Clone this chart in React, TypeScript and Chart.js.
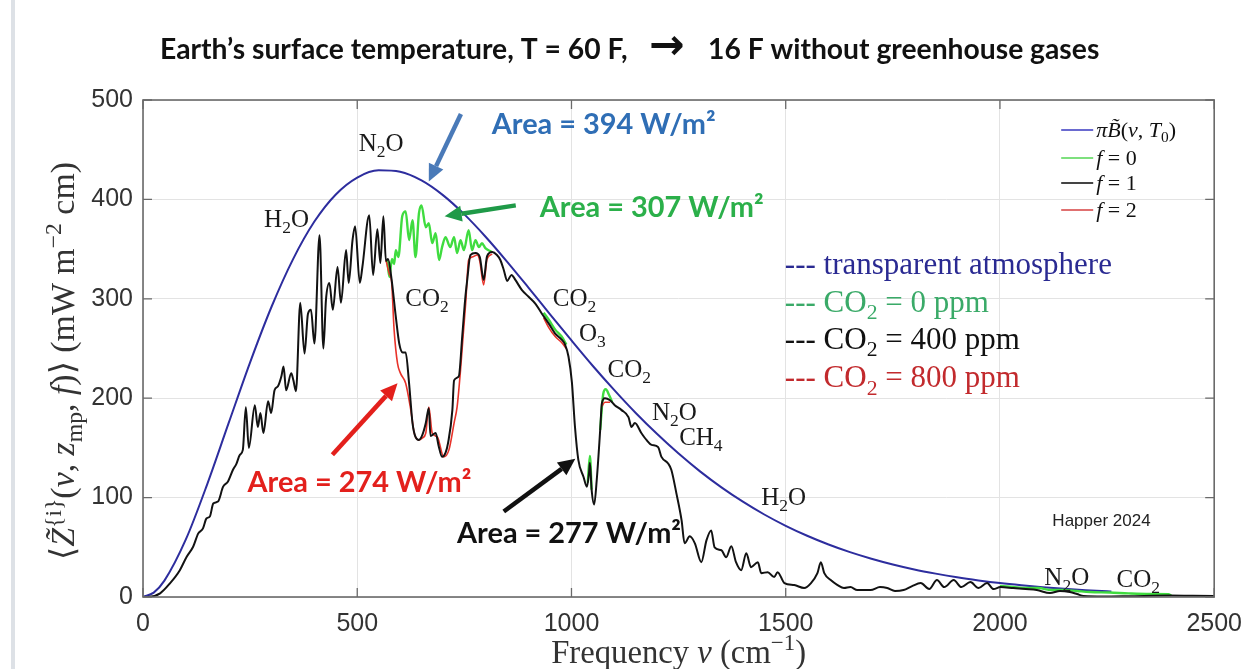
import { useEffect, useRef } from "react";
import { Chart, registerables } from "chart.js";

Chart.register(...registerables);

// ---------------- data ----------------
const X_TICKS = [0, 500, 1000, 1500, 2000, 2500];
const Y_TICKS = [0, 100, 200, 300, 400, 500];

// transparent atmosphere, pi*B(nu, T0)
const blueNu = [0, 25, 50, 100, 150, 200, 250, 300, 350, 400, 450, 500, 550, 600, 650, 700, 750, 800, 850, 900, 950, 1000, 1050, 1100, 1150, 1200, 1250, 1300, 1350, 1400, 1450, 1500, 1550, 1600, 1650, 1700, 1750, 1800, 1850, 1900, 1950, 2000, 2050, 2100, 2150, 2200, 2250, 2260];
const blueVal = [0, 4.4, 16.5, 57.9, 113.6, 175.1, 236.1, 292.0, 339.7, 377.7, 405.0, 422.0, 429.3, 427.8, 419.1, 404.3, 384.9, 362.2, 337.2, 311.0, 284.4, 258.1, 232.4, 208.1, 185.1, 163.9, 144.3, 126.4, 110.3, 95.9, 83.0, 71.6, 61.6, 52.8, 45.1, 38.5, 32.7, 27.7, 23.5, 19.8, 16.7, 14.0, 11.8, 9.9, 8.3, 6.9, 5.7, 5.5];

// f = 1, CO2 = 400 ppm
const blackNu = [0, 16, 40, 63, 86, 102, 117, 129, 140, 148, 156, 164, 175, 187, 198, 210, 218, 226, 233, 240, 247, 261, 268, 274, 281, 292, 299, 307, 315, 323, 328, 334, 346, 351, 357, 367, 377, 385, 392, 400, 412, 421, 427, 435, 443, 454, 462, 474, 480, 489, 495, 506, 512, 528, 537, 547, 554, 561, 567, 572, 580, 590, 598, 606, 613, 621, 629, 636, 644, 652, 660, 667, 671, 683, 690, 698, 706, 712, 722, 726, 737, 745, 752, 757, 764, 776, 786, 795, 803, 815, 826, 834, 842, 850, 860, 869, 884, 900, 916, 931, 947, 962, 977, 985, 993, 1001, 1008, 1016, 1028, 1036, 1041, 1043, 1047, 1053, 1059, 1067, 1071, 1078, 1090, 1101, 1117, 1133, 1140, 1148, 1163, 1175, 1187, 1202, 1210, 1226, 1233, 1245, 1257, 1264, 1276, 1288, 1303, 1315, 1326, 1334, 1350, 1361, 1373, 1384, 1396, 1408, 1419, 1435, 1443, 1458, 1473, 1481, 1497, 1520, 1543, 1559, 1574, 1582, 1590, 1605, 1621, 1636, 1651, 1667, 1698, 1720, 1737, 1755, 1775, 1795, 1815, 1835, 1853, 1870, 1892, 1910, 1931, 1950, 1970, 1985, 2001, 2031, 2060, 2086, 2117, 2140, 2163, 2180, 2195, 2241, 2300, 2396, 2450, 2500];
const blackVal = [0, 0.3, 3.7, 13.8, 27, 40.6, 50.6, 64, 69, 79, 81, 94, 96, 111, 116, 128, 134, 143, 148, 191, 150, 193, 171, 185, 165, 197, 185, 208, 212, 222, 232, 208, 225, 218, 207, 296, 245, 285, 289, 255, 364, 250, 299, 316, 289, 332, 296, 349, 316, 359, 373, 316, 332, 384, 324, 370, 336, 383, 338, 340, 320, 282, 255, 246, 246, 215, 175, 161, 158, 163, 175, 190, 162, 165, 152, 141, 145, 155, 188, 218, 222, 262, 300, 320, 344, 346, 342, 319, 343, 347, 344, 339, 329, 318, 324, 319, 309, 302, 295, 285, 275, 265, 259, 254, 242, 216, 172, 138, 121, 111, 125, 135, 108, 93, 118, 168, 195, 200, 198, 193, 188, 181, 171, 175, 165, 158, 153, 151, 141, 134, 128, 104, 77, 54, 61, 54, 35, 57, 67, 50, 47, 40, 51, 35, 27, 44, 30, 35, 24, 25, 20, 25, 14, 12, 9, 14, 24, 35, 24, 17, 12, 9, 10, 7, 7, 10, 9, 6, 7, 11, 14, 8, 17, 10, 17, 10, 15, 9, 14, 8, 10, 9, 8, 7, 4, 6, 5, 3, 1, 0.5, 0.8, 1.5, 1.2, 1];

// f = 0, CO2 = 0 ppm (only where it departs from f = 1; null = gap)
const greenNu = [570, 575, 581, 586, 590, 596, 605, 613, 621, 629, 636, 644, 650, 660, 667, 675, 683, 691, 698, 706, 717, 726, 733, 741, 749, 760, 768, 776, 784, 791, 799, 810, 815, 816, 935, 947, 962, 977, 988, 989, 1038, 1043, 1047, 1048, 1067, 1074, 1080, 1088, 1095, 1096, 2000, 2030, 2060, 2090, 2120, 2150, 2180, 2210, 2256, 2300, 2350, 2393, 2400];
const greenVal = [340, 322, 340, 335, 349, 342, 383, 388, 359, 379, 342, 386, 394, 372, 376, 356, 366, 339, 352, 362, 352, 362, 346, 359, 349, 369, 349, 359, 352, 356, 351, 348, 347, null, 286, 279, 269, 262, 254, null, 115, 142, 108, null, 168, 204, 209, 203, 196, null, 11, 10, 9, 9, 7, 7, 6, 5, 4.5, 3.6, 3.0, 2.8, 1.5];

// f = 2, CO2 = 800 ppm (only where it departs from f = 1)
const redNu = [567, 575, 580, 586, 594, 601, 613, 625, 633, 644, 652, 660, 667, 675, 687, 702, 714, 726, 733, 741, 747, 753, 760, 768, 780, 786, 795, 803, 815, 816, 935, 947, 962, 977, 988, 989, 1071, 1078, 1090];
const redVal = [339, 325, 318, 269, 235, 225, 215, 188, 165, 158, 160, 165, 191, 165, 161, 141, 148, 175, 191, 228, 262, 295, 339, 342, 344, 338, 314, 340, 345, null, 281, 271, 262, 256, 250, null, 192, 196, 196];

// ---------------- annotations (data coordinates) ----------------
const CHEM_LABELS = [
  { text: "N_2O", nu: 556, val: 457 },
  { text: "H_2O", nu: 335, val: 381 },
  { text: "CO_2", nu: 663, val: 301 },
  { text: "CO_2", nu: 1007, val: 301 },
  { text: "O_3", nu: 1049, val: 266 },
  { text: "CO_2", nu: 1135, val: 230 },
  { text: "N_2O", nu: 1240, val: 187 },
  { text: "CH_4", nu: 1302, val: 161 },
  { text: "H_2O", nu: 1495, val: 101 },
  { text: "N_2O", nu: 2156, val: 21 },
  { text: "CO_2", nu: 2323, val: 19 },
];

const AREA_LABELS = [
  { text: "Area = 394 W/m²", nu: 814, val: 475, color: "#2f6eb5", arrow: [742, 486, 667, 418], arrowColor: "#4a7ab8" },
  { text: "Area = 307 W/m²", nu: 926, val: 392, color: "#2bb04a", arrow: [870, 394, 704, 383], arrowColor: "#1f9a48" },
  { text: "Area = 274 W/m²", nu: 244, val: 115, color: "#e3201c", arrow: [442, 143, 594, 215], arrowColor: "#e3201c" },
  { text: "Area = 277 W/m²", nu: 733, val: 64, color: "#111111", arrow: [842, 86, 1009, 139], arrowColor: "#111111" },
];

const SERIF = '"Liberation Serif", "DejaVu Serif", serif';
const SANS = '"Liberation Sans", Arial, sans-serif';
const BOLD_SANS = 'Lato, "Open Sans", "DejaVu Sans", sans-serif';

type Piece = [string, string?];

function fontFor(style: string | undefined, size: number, family: string) {
  if (style === "sup" || style === "sub") return `${size * 0.7}px ${family}`;
  if (style === "i") return `italic ${size}px ${family}`;
  if (style === "b") return `bold ${size}px ${family}`;
  return `${size}px ${family}`;
}

function measureRich(ctx: CanvasRenderingContext2D, pieces: Piece[], size: number, family: string) {
  let w = 0;
  for (const [t, s] of pieces) {
    ctx.font = fontFor(s, size, family);
    w += ctx.measureText(t).width;
  }
  return w;
}

function drawRich(
  ctx: CanvasRenderingContext2D,
  pieces: Piece[],
  x: number,
  baseline: number,
  size: number,
  family: string,
  color: string,
  align: "left" | "center" | "right" = "left"
) {
  const w = measureRich(ctx, pieces, size, family);
  let cx = align === "center" ? x - w / 2 : align === "right" ? x - w : x;
  ctx.fillStyle = color;
  ctx.textAlign = "left";
  ctx.textBaseline = "alphabetic";
  for (const [t, s] of pieces) {
    ctx.font = fontFor(s, size, family);
    const dy = s === "sup" ? -0.4 * size : s === "sub" ? 0.24 * size : 0;
    ctx.fillText(t, cx, baseline + dy);
    cx += ctx.measureText(t).width;
  }
  return w;
}

function chem(text: string): Piece[] {
  const out: Piece[] = [];
  const parts = text.split(/_(\d)/);
  parts.forEach((p, i) => {
    if (!p) return;
    out.push(i % 2 === 1 ? [p, "sub"] : [p]);
  });
  return out;
}

function arrow(ctx: CanvasRenderingContext2D, x1: number, y1: number, x2: number, y2: number, color: string) {
  const ang = Math.atan2(y2 - y1, x2 - x1);
  const head = 17;
  const hw = 8;
  const bx = x2 - head * Math.cos(ang);
  const by = y2 - head * Math.sin(ang);
  ctx.strokeStyle = color;
  ctx.fillStyle = color;
  ctx.lineWidth = 4.5;
  ctx.lineCap = "butt";
  ctx.beginPath();
  ctx.moveTo(x1, y1);
  ctx.lineTo(bx, by);
  ctx.stroke();
  ctx.beginPath();
  ctx.moveTo(x2, y2);
  ctx.lineTo(bx + hw * Math.sin(ang), by - hw * Math.cos(ang));
  ctx.lineTo(bx - hw * Math.sin(ang), by + hw * Math.cos(ang));
  ctx.closePath();
  ctx.fill();
}

function fitSize(ctx: CanvasRenderingContext2D, text: string, family: string, weight: string, target: number) {
  ctx.font = `${weight} 100px ${family}`;
  return (100 * target) / ctx.measureText(text).width;
}

const decorPlugin = {
  id: "decor",
  afterDatasetsDraw(chart: any) {
    const ctx: CanvasRenderingContext2D = chart.ctx;
    const { left, right, top, bottom } = chart.chartArea;
    const xs = chart.scales.x;
    const ys = chart.scales.y;
    ctx.save();

    // frame and inward ticks
    ctx.strokeStyle = "#6a6a6a";
    ctx.lineWidth = 1.3;
    ctx.beginPath();
    for (const t of X_TICKS) {
      const px = xs.getPixelForValue(t);
      ctx.moveTo(px, bottom);
      ctx.lineTo(px, bottom - 9);
      ctx.moveTo(px, top);
      ctx.lineTo(px, top + 9);
    }
    for (const t of Y_TICKS) {
      const py = ys.getPixelForValue(t);
      ctx.moveTo(left, py);
      ctx.lineTo(left + 9, py);
      ctx.moveTo(right, py);
      ctx.lineTo(right - 9, py);
    }
    ctx.stroke();
    ctx.lineWidth = 1.6;
    ctx.strokeRect(left, top, right - left, bottom - top);

    // chemical labels
    for (const l of CHEM_LABELS) {
      const px = xs.getPixelForValue(l.nu);
      const py = ys.getPixelForValue(l.val);
      drawRich(ctx, chem(l.text), px, py + 8.5, 25, SERIF, "#1a1a1a", "center");
    }

    // area labels + arrows
    for (const a of AREA_LABELS) {
      const size = fitSize(ctx, a.text, BOLD_SANS, "bold", 224);
      ctx.font = `bold ${size}px ${BOLD_SANS}`;
      ctx.fillStyle = a.color;
      ctx.textAlign = "left";
      ctx.textBaseline = "middle";
      ctx.fillText(a.text, xs.getPixelForValue(a.nu), ys.getPixelForValue(a.val));
      const [n1, v1, n2, v2] = a.arrow;
      arrow(ctx, xs.getPixelForValue(n1), ys.getPixelForValue(v1), xs.getPixelForValue(n2), ys.getPixelForValue(v2), a.arrowColor);
    }

    // Happer 2024
    ctx.font = `17px ${SANS}`;
    ctx.fillStyle = "#222";
    ctx.textAlign = "center";
    ctx.textBaseline = "middle";
    ctx.fillText("Happer 2024", xs.getPixelForValue(2237), ys.getPixelForValue(76.5));

    // text legend (dashed markers)
    const tl: { pieces: Piece[]; color: string; val: number }[] = [
      { pieces: [["--- transparent atmosphere"]], color: "#2a2a92", val: 334 },
      { pieces: [["--- CO"], ["2", "sub"], [" = 0 ppm"]], color: "#3aaa68", val: 296 },
      { pieces: [["--- CO"], ["2", "sub"], [" = 400 ppm"]], color: "#111111", val: 258.5 },
      { pieces: [["--- CO"], ["2", "sub"], [" = 800 ppm"]], color: "#c22a2d", val: 220 },
    ];
    for (const r of tl) {
      drawRich(ctx, r.pieces, xs.getPixelForValue(1498), ys.getPixelForValue(r.val) + 9, 31, SERIF, r.color, "left");
    }

    // series legend (top right)
    const leg: { pieces: Piece[]; color: string }[] = [
      { pieces: [["π", "i"], ["B̃", "i"], ["("], ["ν", "i"], [", "], ["T", "i"], ["0", "sub"], [")"]], color: "#6a6ad0" },
      { pieces: [["f", "i"], [" = 0"]], color: "#7ee07e" },
      { pieces: [["f", "i"], [" = 1"]], color: "#444444" },
      { pieces: [["f", "i"], [" = 2"]], color: "#e07070" },
    ];
    const rowY = [30, 58, 83, 110];
    leg.forEach((r, i) => {
      const y = top + rowY[i];
      ctx.strokeStyle = r.color;
      ctx.lineWidth = 2;
      ctx.beginPath();
      ctx.moveTo(right - 153, y);
      ctx.lineTo(right - 121, y);
      ctx.stroke();
      drawRich(ctx, r.pieces, right - 118, y + 7, 22, SERIF, "#111", "left");
    });

    ctx.restore();
  },
  afterDraw(chart: any) {
    const ctx: CanvasRenderingContext2D = chart.ctx;
    const { left, right } = chart.chartArea;
    ctx.save();

    // title
    const leftPart = "Earth’s surface temperature, T = 60 F,";
    const rightPart = "16 F without greenhouse gases";
    const ts = fitSize(ctx, leftPart, BOLD_SANS, "bold", 468);
    ctx.font = `bold ${ts}px ${BOLD_SANS}`;
    ctx.fillStyle = "#111";
    ctx.textBaseline = "middle";
    ctx.textAlign = "left";
    ctx.fillText(leftPart, 160, 50);
    ctx.fillText(rightPart, 708, 50);
    ctx.textAlign = "center";
    ctx.font = `bold ${ts * 1.5}px "DejaVu Sans", sans-serif`;
    ctx.fillText("→", 667, 48);

    // x-axis title
    const xt: Piece[] = [["Frequency "], ["ν", "i"], [" (cm"], ["−1", "sup"], [")"]];
    const xsz = (25 * 255) / measureRich(ctx, xt, 25, SERIF);
    drawRich(ctx, xt, (left + right) / 2, 663, xsz, SERIF, "#333", "center");

    // y-axis title (rotated)
    const yt: Piece[] = [["⟨"], ["Z̃", "i"], ["{i}", "sup"], ["("], ["ν", "i"], [", "], ["z", "i"], ["mp", "sub"], [", "], ["f", "i"], [")⟩ (mW m"], ["−2", "sup"], [" cm)"]];
    const ysz = (24 * 398) / measureRich(ctx, yt, 24, SERIF);
    ctx.translate(63, 361);
    ctx.rotate(-Math.PI / 2);
    drawRich(ctx, yt, 0, ysz * 0.33, ysz, SERIF, "#333", "center");
    ctx.restore();
  },
};

function pts(nu: number[], v: (number | null)[]) {
  return nu.map((n, i) => ({ x: n, y: v[i] }));
}

export default function App() {
  const ref = useRef<HTMLCanvasElement | null>(null);

  useEffect(() => {
    if (!ref.current) return;
    const common = { pointRadius: 0, fill: false, cubicInterpolationMode: "monotone" as const, spanGaps: false };
    const chart = new Chart(ref.current, {
      type: "line",
      data: {
        datasets: [
          { label: "f = 1", data: pts(blackNu, blackVal), borderColor: "#121212", borderWidth: 2, order: 0, ...common },
          { label: "f = 2", data: pts(redNu, redVal), borderColor: "#e8332a", borderWidth: 1.6, order: 1, ...common },
          { label: "f = 0", data: pts(greenNu, greenVal), borderColor: "#3fdc3f", borderWidth: 2.4, order: 2, ...common },
          { label: "πB̃(ν,T0)", data: pts(blueNu, blueVal), borderColor: "#2d2d9e", borderWidth: 2, order: 3, ...common },
        ] as any,
      },
      options: {
        animation: false,
        responsive: false,
        devicePixelRatio: 1,
        layout: { padding: { left: 0, right: 36, top: 100, bottom: 0 } },
        plugins: { legend: { display: false }, tooltip: { enabled: false }, title: { display: false } },
        scales: {
          x: {
            type: "linear",
            min: 0,
            max: 2500,
            afterFit: (s: any) => {
              s.height = 72;
            },
            afterBuildTicks: (s: any) => {
              s.ticks = X_TICKS.map((v) => ({ value: v }));
            },
            ticks: { color: "#333", font: { family: SANS, size: 25 }, padding: 12, maxRotation: 0, callback: (v: any) => String(v) },
            grid: { color: "#e3e3e3", lineWidth: 1, drawTicks: false },
            border: { display: false },
          },
          y: {
            type: "linear",
            min: 0,
            max: 500,
            afterFit: (s: any) => {
              s.width = 143;
            },
            afterBuildTicks: (s: any) => {
              s.ticks = Y_TICKS.map((v) => ({ value: v }));
            },
            ticks: { color: "#333", font: { family: SANS, size: 25 }, padding: 10, callback: (v: any) => String(v) },
            grid: { color: "#e3e3e3", lineWidth: 1, drawTicks: false },
            border: { display: false },
          },
        },
      },
      plugins: [decorPlugin],
    } as any);
    return () => chart.destroy();
  }, []);

  return (
    <div style={{ position: "absolute", left: 0, top: 0, width: 1254, height: 669, background: "#fff", overflow: "hidden" }}>
      <div style={{ position: "absolute", left: 11, top: 0, width: 4, height: 669, background: "#dde1e6" }} />
      <canvas ref={ref} width={1254} height={669} style={{ position: "absolute", left: 0, top: 0 }} />
    </div>
  );
}
